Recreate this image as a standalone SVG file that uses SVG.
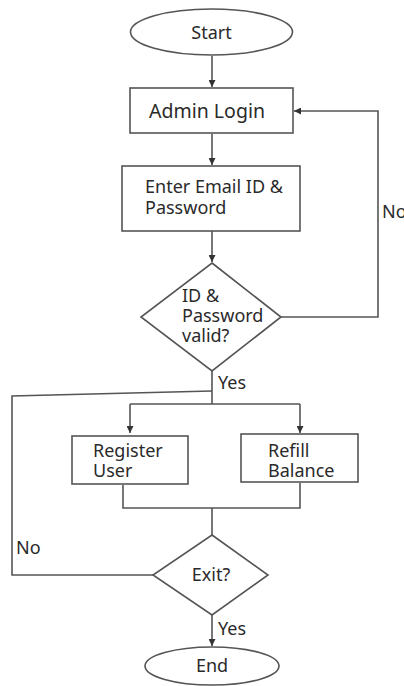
<svg xmlns="http://www.w3.org/2000/svg" width="404" height="686" viewBox="0 0 404 686">
<style>
.s{fill:#fff;stroke:#555;stroke-width:1.6}
.c{fill:none;stroke:#555;stroke-width:1.6}
.t{font-family:"Noto Sans","Open Sans",sans-serif;font-size:18px;fill:#2a2a2a}
.m{text-anchor:middle}
</style>
<defs>
<marker id="a" viewBox="0 0 8 8" refX="8" refY="4" markerWidth="7" markerHeight="7" markerUnits="userSpaceOnUse" orient="auto">
<path d="M0,0 L8,4 L0,8 z" fill="#333"/>
</marker>
</defs>
<rect width="404" height="686" fill="#fff"/>
<g id="connectors">
<path class="c" d="M212,56 V87" marker-end="url(#a)"/>
<path class="c" d="M212,134 V165" marker-end="url(#a)"/>
<path class="c" d="M212,231 V262" marker-end="url(#a)"/>
<path class="c" d="M281,317 H378 V111 H294" marker-end="url(#a)"/>
<path class="c" d="M212,371 V404"/>
<path class="c" d="M130,404 H300"/>
<path class="c" d="M130,404 V433" marker-end="url(#a)"/>
<path class="c" d="M300,404 V433" marker-end="url(#a)"/>
<path class="c" d="M212,391 L12,396 V575 H153"/>
<path class="c" d="M123,485 V508 H300 V483"/>
<path class="c" d="M212,508 V535"/>
<path class="c" d="M212,615 V646" marker-end="url(#a)"/>
<text class="t" x="382" y="218">No</text>
<text class="t" x="218" y="389">Yes</text>
<text class="t" x="16" y="554">No</text>
<text class="t" x="218" y="635">Yes</text>
</g>
<g id="start">
<ellipse class="s" cx="211.5" cy="32" rx="81" ry="23"/>
<text class="t m" x="211.5" y="38.5">Start</text>
</g>
<g id="admin-login">
<rect class="s" x="130" y="88" width="163" height="45"/>
<text class="t m" x="207" y="117.5" style="font-size:19.5px">Admin Login</text>
</g>
<g id="enter-credentials">
<rect class="s" x="122" y="166" width="178" height="65"/>
<text class="t" x="145" y="193">Enter Email ID &amp;</text>
<text class="t" x="145" y="214">Password</text>
</g>
<g id="valid-check">
<path class="s" d="M212,263 L281,317 L212,371 L141,317 Z"/>
<text class="t" x="182" y="302">ID &amp;</text>
<text class="t" x="182" y="322">Password</text>
<text class="t" x="182" y="342">valid?</text>
</g>
<g id="register-user">
<rect class="s" x="72" y="436" width="116" height="48"/>
<text class="t" x="93" y="457">Register</text>
<text class="t" x="93" y="477">User</text>
</g>
<g id="refill-balance">
<rect class="s" x="241" y="434" width="117" height="48"/>
<text class="t" x="268" y="457">Refill</text>
<text class="t" x="268" y="477">Balance</text>
</g>
<g id="exit-check">
<path class="s" d="M212,535 L268,575 L212,615 L153,575 Z"/>
<text class="t m" x="211" y="581">Exit?</text>
</g>
<g id="end">
<ellipse class="s" cx="212" cy="666" rx="67" ry="19"/>
<text class="t m" x="212" y="672">End</text>
</g>
</svg>
